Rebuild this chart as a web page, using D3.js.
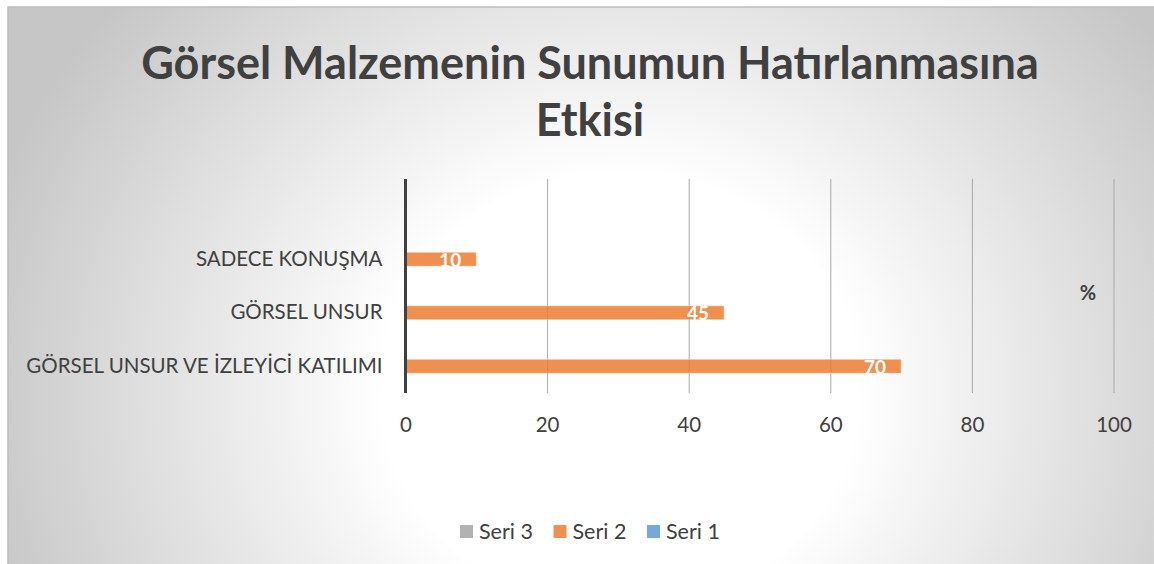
<!DOCTYPE html>
<html>
<head>
<meta charset="utf-8">
<script src="https://cdn.jsdelivr.net/npm/d3@7"></script>
<style>
  html, body { margin: 0; padding: 0; background: #ffffff; }
  svg { display: block; }
</style>
</head>
<body>
<svg id="chart" width="1154" height="564"></svg>
<script>
// ---- data ----
const titleLines = ["Görsel Malzemenin Sunumun Hatırlanmasına", "Etkisi"];
// categories from top to bottom (first slot is an empty category in the source)
const categories = ["", "SADECE KONUŞMA", "GÖRSEL UNSUR", "GÖRSEL UNSUR VE İZLEYİCİ KATILIMI"];
const seriesNames = ["Seri 3", "Seri 2", "Seri 1"];
const seri1 = [null, null, null, null];
const seri2 = [null, 10, 45, 70];
const seri3 = [null, null, null, null];
const xTicks = [0, 20, 40, 60, 80, 100];
const unitLabel = "%";
const seriesColors = ["#A5A5A5", "#ED7D31", "#5B9BD5"];

// ---- layout ----
const W = 1154, H = 564;
const svg = d3.select("#chart");
const FONT = "Lato, 'Open Sans', sans-serif";

const defs = svg.append("defs");
const grad = defs.append("radialGradient")
  .attr("id", "bg")
  .attr("gradientUnits", "userSpaceOnUse")
  .attr("cx", 0).attr("cy", 0).attr("r", 1)
  .attr("gradientTransform", "translate(620,390) scale(660,600)");
grad.append("stop").attr("offset", 0).attr("stop-color", "#ffffff");
grad.append("stop").attr("offset", 0.36).attr("stop-color", "#ffffff");
grad.append("stop").attr("offset", 1).attr("stop-color", "#c6c6c6");

svg.append("rect").attr("x", 0).attr("y", 0).attr("width", W).attr("height", H).attr("fill", "#ffffff");
svg.append("rect").attr("x", 8).attr("y", 7).attr("width", 1170).attr("height", 580)
  .attr("fill", "url(#bg)").attr("stroke", "#bdbdbd").attr("stroke-width", 1.5);

// title
const title = svg.append("text")
  .attr("text-anchor", "middle")
  .attr("font-family", FONT)
  .attr("font-weight", "bold")
  .attr("font-size", 45)
  .attr("fill", "#404040");
titleLines.forEach((t, i) => {
  title.append("tspan").attr("x", 590).attr("y", 79 + i * 57).text(t);
});

const plot = { left: 405.5, right: 1113.5, top: 179, bottom: 393 };

const x = d3.scaleLinear().domain([0, 100]).range([plot.left, plot.right]);
const y0 = d3.scaleBand().domain(categories).range([plot.top, plot.bottom]).padding(0);
const y1 = d3.scaleBand().domain(seriesNames).range([0, y0.bandwidth()]).paddingInner(0).paddingOuter(0.41);

// gridlines
const grid = svg.append("g")
  .attr("transform", `translate(0,${plot.top})`)
  .call(d3.axisBottom(x).tickValues(xTicks.filter(v => v !== 0)).tickSize(plot.bottom - plot.top).tickFormat(""));
grid.select(".domain").remove();
grid.selectAll("line").attr("stroke", "#a9a9a9").attr("stroke-width", 1);

// bars
const seriesData = [seri3, seri2, seri1];
const barsG = svg.append("g");
seriesNames.forEach((name, si) => {
  const vals = seriesData[si];
  const rows = categories.map((c, i) => ({ c, v: vals[i] })).filter(d => d.v != null);
  barsG.selectAll(null).data(rows).enter().append("rect")
    .attr("x", x(0))
    .attr("y", d => y0(d.c) + y1(name))
    .attr("width", d => x(d.v) - x(0))
    .attr("height", y1.bandwidth())
    .attr("fill", seriesColors[si])
    .attr("fill-opacity", 0.85)
    .attr("stroke", "#ffffff")
    .attr("stroke-opacity", 0.45)
    .attr("stroke-width", 1);
  barsG.selectAll(null).data(rows).enter().append("text")
    .attr("x", d => x(d.v) - 15)
    .attr("y", d => y0(d.c) + y1(name) + y1.bandwidth() / 2)
    .attr("dy", "0.4em")
    .attr("text-anchor", "end")
    .attr("font-family", FONT)
    .attr("font-weight", "bold")
    .attr("font-size", 19)
    .attr("fill", "#ffffff")
    .text(d => d.v);
});

// zero axis line
svg.append("line")
  .attr("x1", x(0)).attr("x2", x(0))
  .attr("y1", plot.top).attr("y2", plot.bottom)
  .attr("stroke", "#404040").attr("stroke-width", 3);

// x axis labels
const xAxis = svg.append("g")
  .attr("transform", `translate(0,${plot.bottom})`)
  .call(d3.axisBottom(x).tickValues(xTicks).tickSize(0).tickPadding(24).tickFormat(d3.format("d")));
xAxis.select(".domain").remove();
xAxis.selectAll("text").attr("font-family", FONT).attr("font-size", 20.5).attr("fill", "#404040");

// y axis labels
const yAxis = svg.append("g")
  .attr("transform", `translate(${plot.left},0)`)
  .call(d3.axisLeft(y0).tickSize(0).tickPadding(23));
yAxis.select(".domain").remove();
yAxis.selectAll("text").attr("font-family", FONT).attr("font-size", 20.5).attr("fill", "#404040");

// unit label
svg.append("text")
  .attr("x", 1088).attr("y", 300)
  .attr("text-anchor", "middle")
  .attr("font-family", FONT).attr("font-weight", "bold").attr("font-size", 20)
  .attr("fill", "#404040")
  .text(unitLabel);

// legend
const legend = svg.append("g");
legend.append("rect").attr("x", 440).attr("y", 508).attr("width", 290).attr("height", 45)
  .attr("fill", "#ffffff").attr("fill-opacity", 0.35);
seriesNames.forEach((name, i) => {
  const gx = 460 + i * 93.5;
  legend.append("rect").attr("x", gx).attr("y", 525).attr("width", 13).attr("height", 13)
    .attr("fill", seriesColors[i]).attr("fill-opacity", 0.85);
  legend.append("text").attr("x", gx + 19).attr("y", 538.5)
    .attr("font-family", FONT).attr("font-size", 21.5).attr("fill", "#404040")
    .text(name);
});
</script>
</body>
</html>
